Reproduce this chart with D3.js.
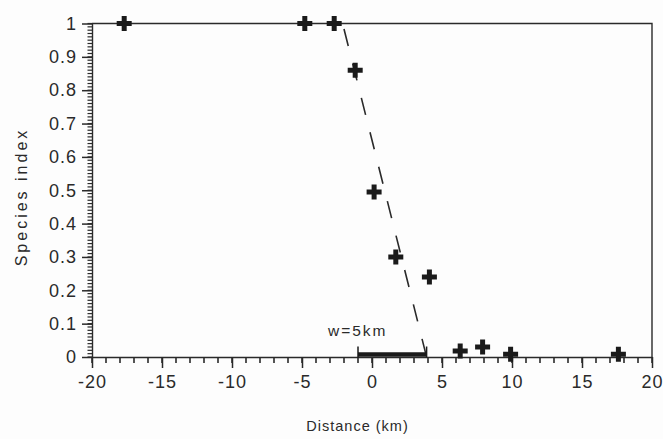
<!DOCTYPE html>
<html>
<head>
<meta charset="utf-8">
<script src="https://cdn.jsdelivr.net/npm/d3@7"></script>
<style>
  html, body { margin: 0; padding: 0; background: #fdfdfd; }
  svg { display: block; }
  text { font-family: "Liberation Sans", Arial, sans-serif; fill: #2a2a2a; }
</style>
</head>
<body>
<svg id="chart" width="663" height="439"></svg>
<script>
// Species index across the hybrid zone, with fitted cline
const distanceKm   = [-17.7, -4.8, -2.7, -1.2, 0.15, 1.7, 4.1, 6.3, 7.9, 9.9, 17.6];
const speciesIndex = [1, 1, 1, 0.86, 0.495, 0.30, 0.24, 0.018, 0.03, 0.008, 0.008];

// straight-line cline fit (dashed)
const clineDistance = [-2.1, 3.9];
const clineIndex    = [1, 0];

// cline width bar
const widthBarKm  = [-1.0, 3.9];
const widthLabel  = "w=5km";

const xTickValues = [-20, -15, -10, -5, 0, 5, 10, 15, 20];
const yTickValues = [0, 0.1, 0.2, 0.3, 0.4, 0.5, 0.6, 0.7, 0.8, 0.9, 1];
const xMinorTicks = d3.range(-20, 21, 1);
const yMinorTicks = d3.range(0, 101, 1).map(d => d / 100);

const xTitle = "Distance (km)";
const yTitle = "Species index";

const svg = d3.select("#chart");
const ink = "#2a2a2a";

const x = d3.scaleLinear().domain([-20, 20]).range([92, 652]);
const y = d3.scaleLinear().domain([0, 1]).range([357, 23.5]);

// frame (top and right edges)
svg.append("path")
  .attr("d", `M${x(-20)},${y(1)}H${x(20)}V${y(0)}`)
  .attr("fill", "none").attr("stroke", ink).attr("stroke-width", 1.4);

// major axes
const gx = svg.append("g").attr("transform", `translate(0,${y(0)})`)
  .call(d3.axisBottom(x).tickValues(xTickValues).tickSize(11).tickSizeOuter(0)
        .tickPadding(7).tickFormat(d => String(d)));
const gy = svg.append("g").attr("transform", `translate(${x(-20)},0)`)
  .call(d3.axisLeft(y).tickValues(yTickValues).tickSize(10).tickSizeOuter(0)
        .tickPadding(5).tickFormat(d => d === 0 || d === 1 ? String(d) : d3.format(".1f")(d)));

[gx, gy].forEach(g => {
  g.select(".domain").attr("stroke", ink).attr("stroke-width", 1.4);
  g.selectAll(".tick line").attr("stroke", ink).attr("stroke-width", 1.5);
  g.selectAll(".tick text")
    .attr("font-size", 18).attr("letter-spacing", 1).attr("fill", ink)
    .attr("font-family", "Liberation Sans, Arial, sans-serif");
});
gx.selectAll(".tick text").attr("dy", "0.71em");

// minor ticks, drawn over the axis lines
const minor = svg.append("g").attr("stroke", ink);
minor.selectAll("line.mx").data(xMinorTicks).join("line")
  .attr("class", "mx")
  .attr("x1", d => x(d)).attr("x2", d => x(d))
  .attr("y1", y(0)).attr("y2", y(0) + 6)
  .attr("stroke-width", 1.6);
minor.selectAll("line.my").data(yMinorTicks).join("line")
  .attr("class", "my")
  .attr("x1", x(-20) - 4.5).attr("x2", x(-20))
  .attr("y1", d => y(d)).attr("y2", d => y(d))
  .attr("stroke-width", 1.2);

// dashed cline
svg.append("path")
  .datum(d3.zip(clineDistance, clineIndex))
  .attr("d", d3.line().x(d => x(d[0])).y(d => y(d[1])))
  .attr("fill", "none").attr("stroke", ink).attr("stroke-width", 1.6)
  .attr("stroke-dasharray", "17.5,18").attr("stroke-dashoffset", -5.7);

// width bar along the axis
const barY = y(0) - 2.5;
svg.append("line")
  .attr("x1", x(widthBarKm[0])).attr("x2", x(widthBarKm[1]))
  .attr("y1", barY).attr("y2", barY)
  .attr("stroke", "#1a1a1a").attr("stroke-width", 4.5);
svg.append("g").selectAll("line").data(widthBarKm).join("line")
  .attr("x1", d => x(d)).attr("x2", d => x(d))
  .attr("y1", barY - 8).attr("y2", barY + 3)
  .attr("stroke", "#1a1a1a").attr("stroke-width", 1.5);
svg.append("text")
  .attr("x", x(widthBarKm[0]) - 30).attr("y", barY - 19)
  .attr("font-size", 15.5).attr("letter-spacing", 2)
  .text(widthLabel);

// data points as bold plus markers
svg.append("g").selectAll("path").data(d3.zip(distanceKm, speciesIndex)).join("path")
  .attr("transform", d => `translate(${x(d[0])},${y(d[1])})`)
  .attr("d", d3.symbol(d3.symbolCross, 125)())
  .attr("fill", "#1a1a1a");

// axis titles
svg.append("text")
  .attr("x", 357.5).attr("y", 431)
  .attr("text-anchor", "middle")
  .attr("font-size", 14.5).attr("letter-spacing", 1)
  .text(xTitle);
svg.append("text")
  .attr("transform", "translate(21,197) rotate(-90)")
  .attr("text-anchor", "middle").attr("dominant-baseline", "central")
  .attr("font-size", 16).attr("letter-spacing", 3)
  .text(yTitle);
</script>
</body>
</html>
